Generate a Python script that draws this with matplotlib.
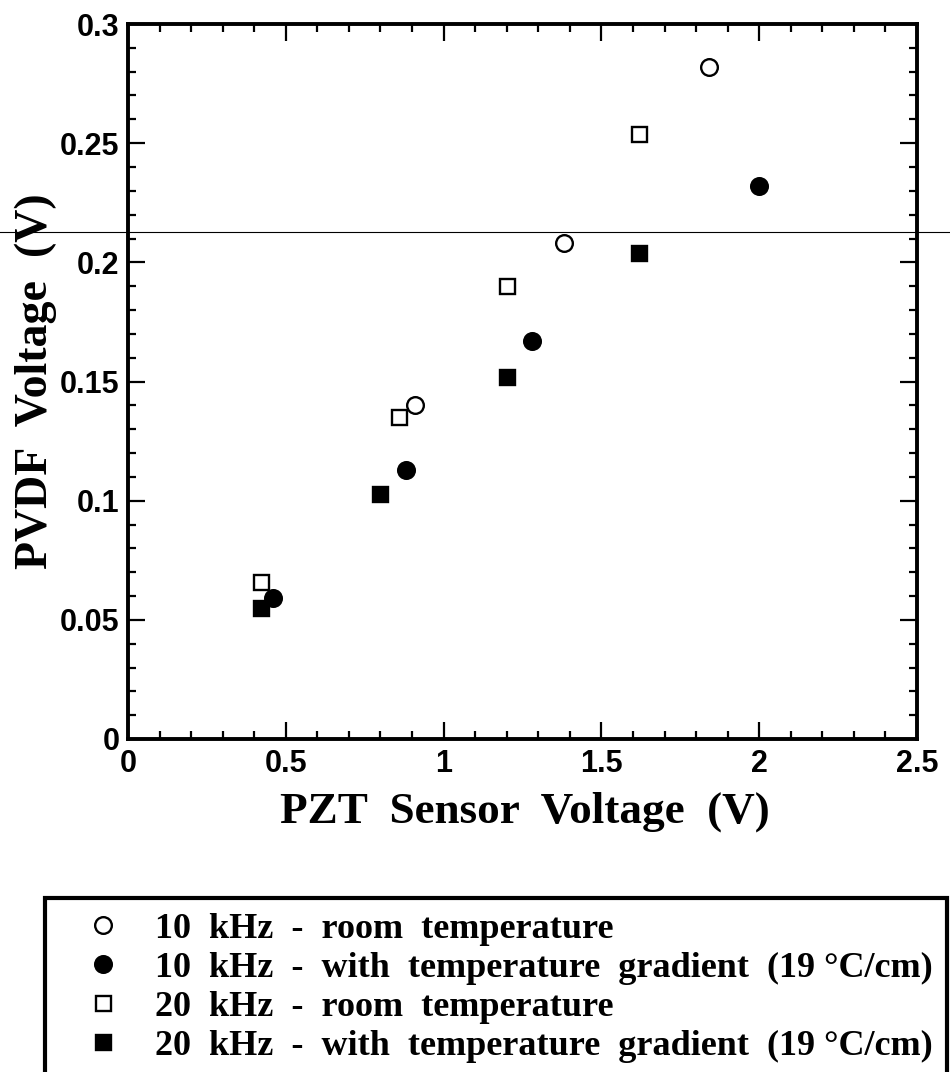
import matplotlib
matplotlib.use('Agg')
import matplotlib.pyplot as plt
from matplotlib.lines import Line2D
from matplotlib.ticker import MultipleLocator, FixedLocator, FixedFormatter

# PZT sensor voltage (V) vs PVDF voltage (V)
x_10k_room = [0.91, 1.38, 1.84]
y_10k_room = [0.140, 0.208, 0.282]

x_10k_grad = [0.46, 0.88, 1.28, 2.00]
y_10k_grad = [0.059, 0.113, 0.167, 0.232]

x_20k_room = [0.42, 0.86, 1.20, 1.62]
y_20k_room = [0.066, 0.135, 0.190, 0.254]

x_20k_grad = [0.42, 0.80, 1.20, 1.62]
y_20k_grad = [0.055, 0.103, 0.152, 0.204]

labels = ['10  kHz  -  room  temperature',
          '10  kHz  -  with  temperature  gradient  (19 \u00b0C/cm)',
          '20  kHz  -  room  temperature',
          '20  kHz  -  with  temperature  gradient  (19 \u00b0C/cm)']

x_ticks = [0, 0.5, 1, 1.5, 2, 2.5]
x_tick_labels = ['0', '0.5', '1', '1.5', '2', '2.5']
y_ticks = [0, 0.05, 0.1, 0.15, 0.2, 0.25, 0.3]
y_tick_labels = ['0', '0.05', '0.1', '0.15', '0.2', '0.25', '0.3']

serif = 'Liberation Serif'
sans = 'Liberation Sans'

fig = plt.figure(figsize=(9.5, 10.72), dpi=100)
ax = fig.add_axes([128 / 950, 1 - 739 / 1072, 789 / 950, 715 / 1072])

ms_c, ms_s, mew = 12, 10.8, 1.7
h1, = ax.plot(x_10k_room, y_10k_room, 'o', ms=ms_c, mfc='white', mec='black', mew=mew)
h2, = ax.plot(x_10k_grad, y_10k_grad, 'o', ms=ms_c, mfc='black', mec='black', mew=mew)
h3, = ax.plot(x_20k_room, y_20k_room, 's', ms=ms_s, mfc='white', mec='black', mew=mew)
h4, = ax.plot(x_20k_grad, y_20k_grad, 's', ms=ms_s, mfc='black', mec='black', mew=mew)

ax.set_xlim(0, 2.5)
ax.set_ylim(0, 0.3)
ax.xaxis.set_major_locator(FixedLocator(x_ticks))
ax.xaxis.set_major_formatter(FixedFormatter(x_tick_labels))
ax.yaxis.set_major_locator(FixedLocator(y_ticks))
ax.yaxis.set_major_formatter(FixedFormatter(y_tick_labels))
ax.xaxis.set_minor_locator(MultipleLocator(0.1))
ax.yaxis.set_minor_locator(MultipleLocator(0.01))

for s in ax.spines.values():
    s.set_linewidth(2.8)
ax.tick_params(which='both', direction='in', top=True, right=True, width=1.6)
ax.tick_params(which='major', length=12)
ax.tick_params(which='minor', length=6)
ax.tick_params(axis='x', pad=7)
ax.tick_params(axis='y', pad=6)
for lab in ax.get_xticklabels() + ax.get_yticklabels():
    lab.set_fontfamily(sans)
    lab.set_fontweight('bold')
    lab.set_fontsize(22)

ax.set_xlabel('PZT  Sensor  Voltage  (V)', family=serif, weight='bold', fontsize=32.5, va='baseline')
ax.xaxis.set_label_coords(0.503, (739 - 823) / 715)
ax.set_ylabel('PVDF  Voltage  (V)', family=serif, weight='bold', fontsize=33, va='baseline')
ax.yaxis.set_label_coords((47 - 128) / 789, 0.5)

leg = fig.legend([h1, h2, h3, h4], labels, loc='upper left',
                 bbox_to_anchor=(45 / 950, 1 - 898 / 1072), bbox_transform=fig.transFigure,
                 borderaxespad=0, numpoints=1, handlelength=2.42, handletextpad=0.23,
                 borderpad=0.4, labelspacing=0.16, fancybox=False, frameon=True,
                 prop={'family': serif, 'weight': 'bold', 'size': 26})
leg.get_frame().set_edgecolor('black')
leg.get_frame().set_linewidth(3)
leg.get_frame().set_alpha(1)

# thin scan line running across the whole page
fig.add_artist(Line2D([0, 1], [1 - 232 / 1072] * 2, transform=fig.transFigure,
                      color='black', lw=0.8))

fig.savefig('out.png', dpi=100)
